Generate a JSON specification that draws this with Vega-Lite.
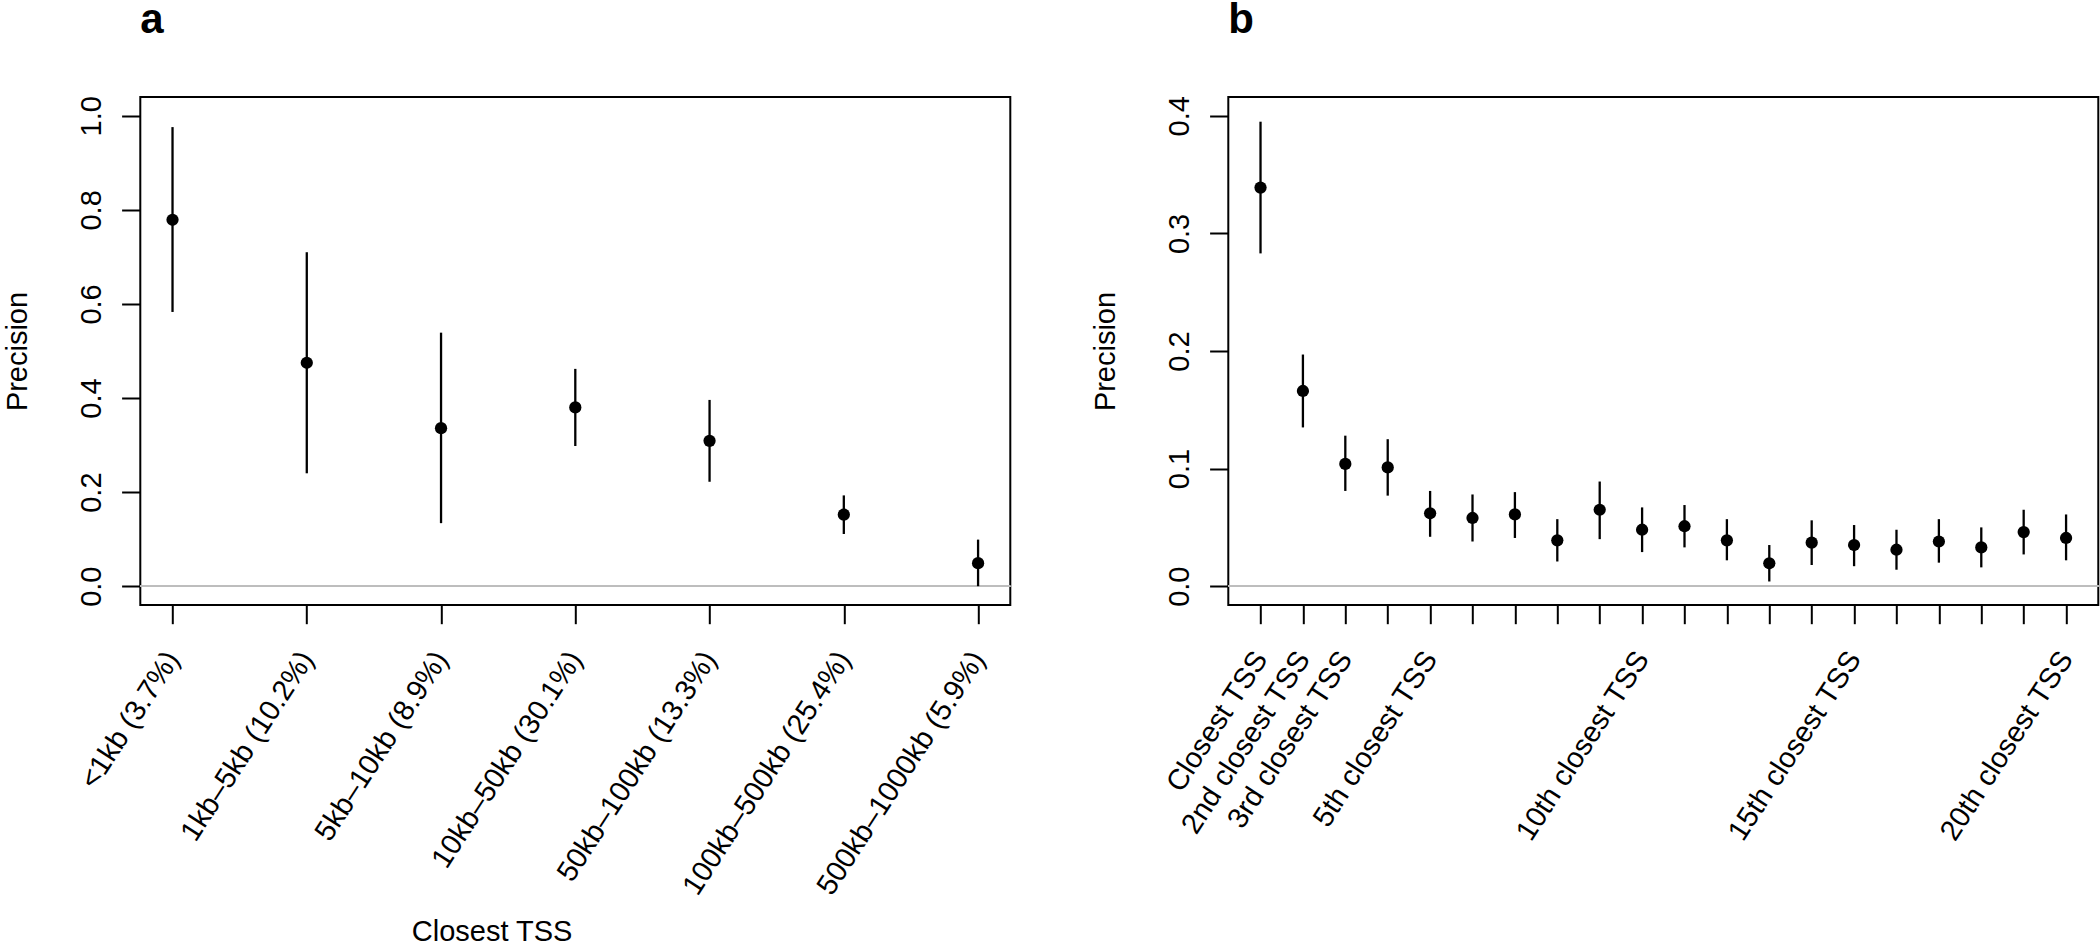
{
  "$schema": "https://vega.github.io/schema/vega-lite/v6.json",
  "autosize": {"type": "pad"},
  "padding": {"left": 2.3, "top": -3, "right": 0, "bottom": 0},
  "background": "white",
  "datasets": {
    "dist": [
      {"k": 1, "p": 0.779, "lo": 0.583, "hi": 0.976},
      {"k": 2, "p": 0.475, "lo": 0.240, "hi": 0.710},
      {"k": 3, "p": 0.336, "lo": 0.134, "hi": 0.539},
      {"k": 4, "p": 0.380, "lo": 0.298, "hi": 0.462},
      {"k": 5, "p": 0.309, "lo": 0.222, "hi": 0.396},
      {"k": 6, "p": 0.152, "lo": 0.111, "hi": 0.193},
      {"k": 7, "p": 0.049, "lo": 0.000, "hi": 0.099}
    ],
    "rank": [
      {"k": 1, "p": 0.339, "lo": 0.283, "hi": 0.395},
      {"k": 2, "p": 0.166, "lo": 0.135, "hi": 0.197},
      {"k": 3, "p": 0.104, "lo": 0.081, "hi": 0.128},
      {"k": 4, "p": 0.101, "lo": 0.077, "hi": 0.125},
      {"k": 5, "p": 0.062, "lo": 0.042, "hi": 0.081},
      {"k": 6, "p": 0.058, "lo": 0.038, "hi": 0.078},
      {"k": 7, "p": 0.061, "lo": 0.041, "hi": 0.080},
      {"k": 8, "p": 0.039, "lo": 0.021, "hi": 0.057},
      {"k": 9, "p": 0.065, "lo": 0.040, "hi": 0.089},
      {"k": 10, "p": 0.048, "lo": 0.029, "hi": 0.067},
      {"k": 11, "p": 0.051, "lo": 0.033, "hi": 0.069},
      {"k": 12, "p": 0.039, "lo": 0.022, "hi": 0.057},
      {"k": 13, "p": 0.0195, "lo": 0.004, "hi": 0.035},
      {"k": 14, "p": 0.037, "lo": 0.018, "hi": 0.056},
      {"k": 15, "p": 0.035, "lo": 0.017, "hi": 0.052},
      {"k": 16, "p": 0.031, "lo": 0.014, "hi": 0.048},
      {"k": 17, "p": 0.038, "lo": 0.020, "hi": 0.057},
      {"k": 18, "p": 0.033, "lo": 0.016, "hi": 0.050},
      {"k": 19, "p": 0.046, "lo": 0.027, "hi": 0.065},
      {"k": 20, "p": 0.041, "lo": 0.022, "hi": 0.061}
    ]
  },
  "hconcat": [
    {
      "width": 870,
      "height": 508,
      "title": {"text": "a", "anchor": "start", "frame": "group", "fontSize": 42, "fontWeight": "bold", "font": "Liberation Sans", "baseline": "alphabetic", "offset": 21, "color": "black"},
      "data": {"name": "dist"},
      "layer": [
        {
          "mark": {"type": "rule", "color": "#bdbdbd", "strokeWidth": 1.5},
          "encoding": {"y": {"datum": 0, "type": "quantitative", "scale": {"domain": [-0.04, 1.04], "nice": false, "zero": false}}}
        },
        {
          "mark": {"type": "rule", "color": "black", "strokeWidth": 2.3},
          "encoding": {
            "x": {"field": "k", "type": "quantitative", "scale": {"domain": [0.76, 7.24], "nice": false, "zero": false},
                  "axis": {"values": [1, 2, 3, 4, 5, 6, 7], "title": "Closest TSS", "titleX": 351.3, "titleY": 336, "titleAlign": "center", "titleBaseline": "alphabetic", "titleAngle": 0,
                           "labelExpr": "['<1kb (3.7%)','1kb–5kb (10.2%)','5kb–10kb (8.9%)','10kb–50kb (30.1%)','50kb–100kb (13.3%)','100kb–500kb (25.4%)','500kb–1000kb (5.9%)'][datum.value - 1]"}},
            "y": {"field": "lo", "type": "quantitative", "scale": {"domain": [-0.04, 1.04], "nice": false, "zero": false},
                  "axis": {"values": [0, 0.2, 0.4, 0.6, 0.8, 1.0], "title": "Precision"}},
            "y2": {"field": "hi"}
          }
        },
        {
          "mark": {"type": "point", "filled": true, "shape": "circle", "size": 150, "color": "black", "opacity": 1},
          "encoding": {
            "x": {"field": "k", "type": "quantitative"},
            "y": {"field": "p", "type": "quantitative", "title": "Precision"}
          }
        }
      ]
    },
    {
      "width": 870,
      "height": 508,
      "title": {"text": "b", "anchor": "start", "frame": "group", "fontSize": 42, "fontWeight": "bold", "font": "Liberation Sans", "baseline": "alphabetic", "offset": 21, "color": "black"},
      "data": {"name": "rank"},
      "layer": [
        {
          "mark": {"type": "rule", "color": "#bdbdbd", "strokeWidth": 1.5},
          "encoding": {"y": {"datum": 0, "type": "quantitative", "scale": {"domain": [-0.016, 0.416], "nice": false, "zero": false}}}
        },
        {
          "mark": {"type": "rule", "color": "black", "strokeWidth": 2.3},
          "encoding": {
            "x": {"field": "k", "type": "quantitative", "scale": {"domain": [0.24, 20.76], "nice": false, "zero": false},
                  "axis": {"values": [1, 2, 3, 4, 5, 6, 7, 8, 9, 10, 11, 12, 13, 14, 15, 16, 17, 18, 19, 20], "title": null,
                           "labelExpr": "datum.value == 1 ? 'Closest TSS' : datum.value == 2 ? '2nd closest TSS' : datum.value == 3 ? '3rd closest TSS' : (datum.value == 5 || datum.value == 10 || datum.value == 15 || datum.value == 20) ? datum.value + 'th closest TSS' : ''"}},
            "y": {"field": "lo", "type": "quantitative", "scale": {"domain": [-0.016, 0.416], "nice": false, "zero": false},
                  "axis": {"values": [0, 0.1, 0.2, 0.3, 0.4], "title": "Precision"}},
            "y2": {"field": "hi"}
          }
        },
        {
          "mark": {"type": "point", "filled": true, "shape": "circle", "size": 150, "color": "black", "opacity": 1},
          "encoding": {
            "x": {"field": "k", "type": "quantitative"},
            "y": {"field": "p", "type": "quantitative", "title": "Precision"}
          }
        }
      ]
    }
  ],
  "spacing": 218,
  "bounds": "flush",
  "config": {
    "view": {"stroke": "black", "strokeWidth": 2},
    "font": "Liberation Sans",
    "axis": {"domain": false, "grid": false, "tickColor": "black", "tickWidth": 2, "tickSize": 18.7,
             "labelFont": "Liberation Sans", "labelFontSize": 29, "labelColor": "black", "labelLimit": 1000,
             "titleFont": "Liberation Sans", "titleFontSize": 29, "titleFontWeight": "normal", "titleColor": "black", "titleLimit": 1000,
             "labelOverlap": false, "labelFlush": false, "labelBound": false},
    "axisY": {"labelAngle": 270, "labelAlign": "center", "labelBaseline": "alphabetic", "labelPadding": 21,
              "titleAngle": 270, "titleX": -114, "titleY": 254, "titleAlign": "center", "titleBaseline": "alphabetic", "format": ".1f"},
    "axisX": {"labelAngle": 303, "labelAlign": "right", "labelBaseline": "middle", "labelPadding": 30}
  }
}
